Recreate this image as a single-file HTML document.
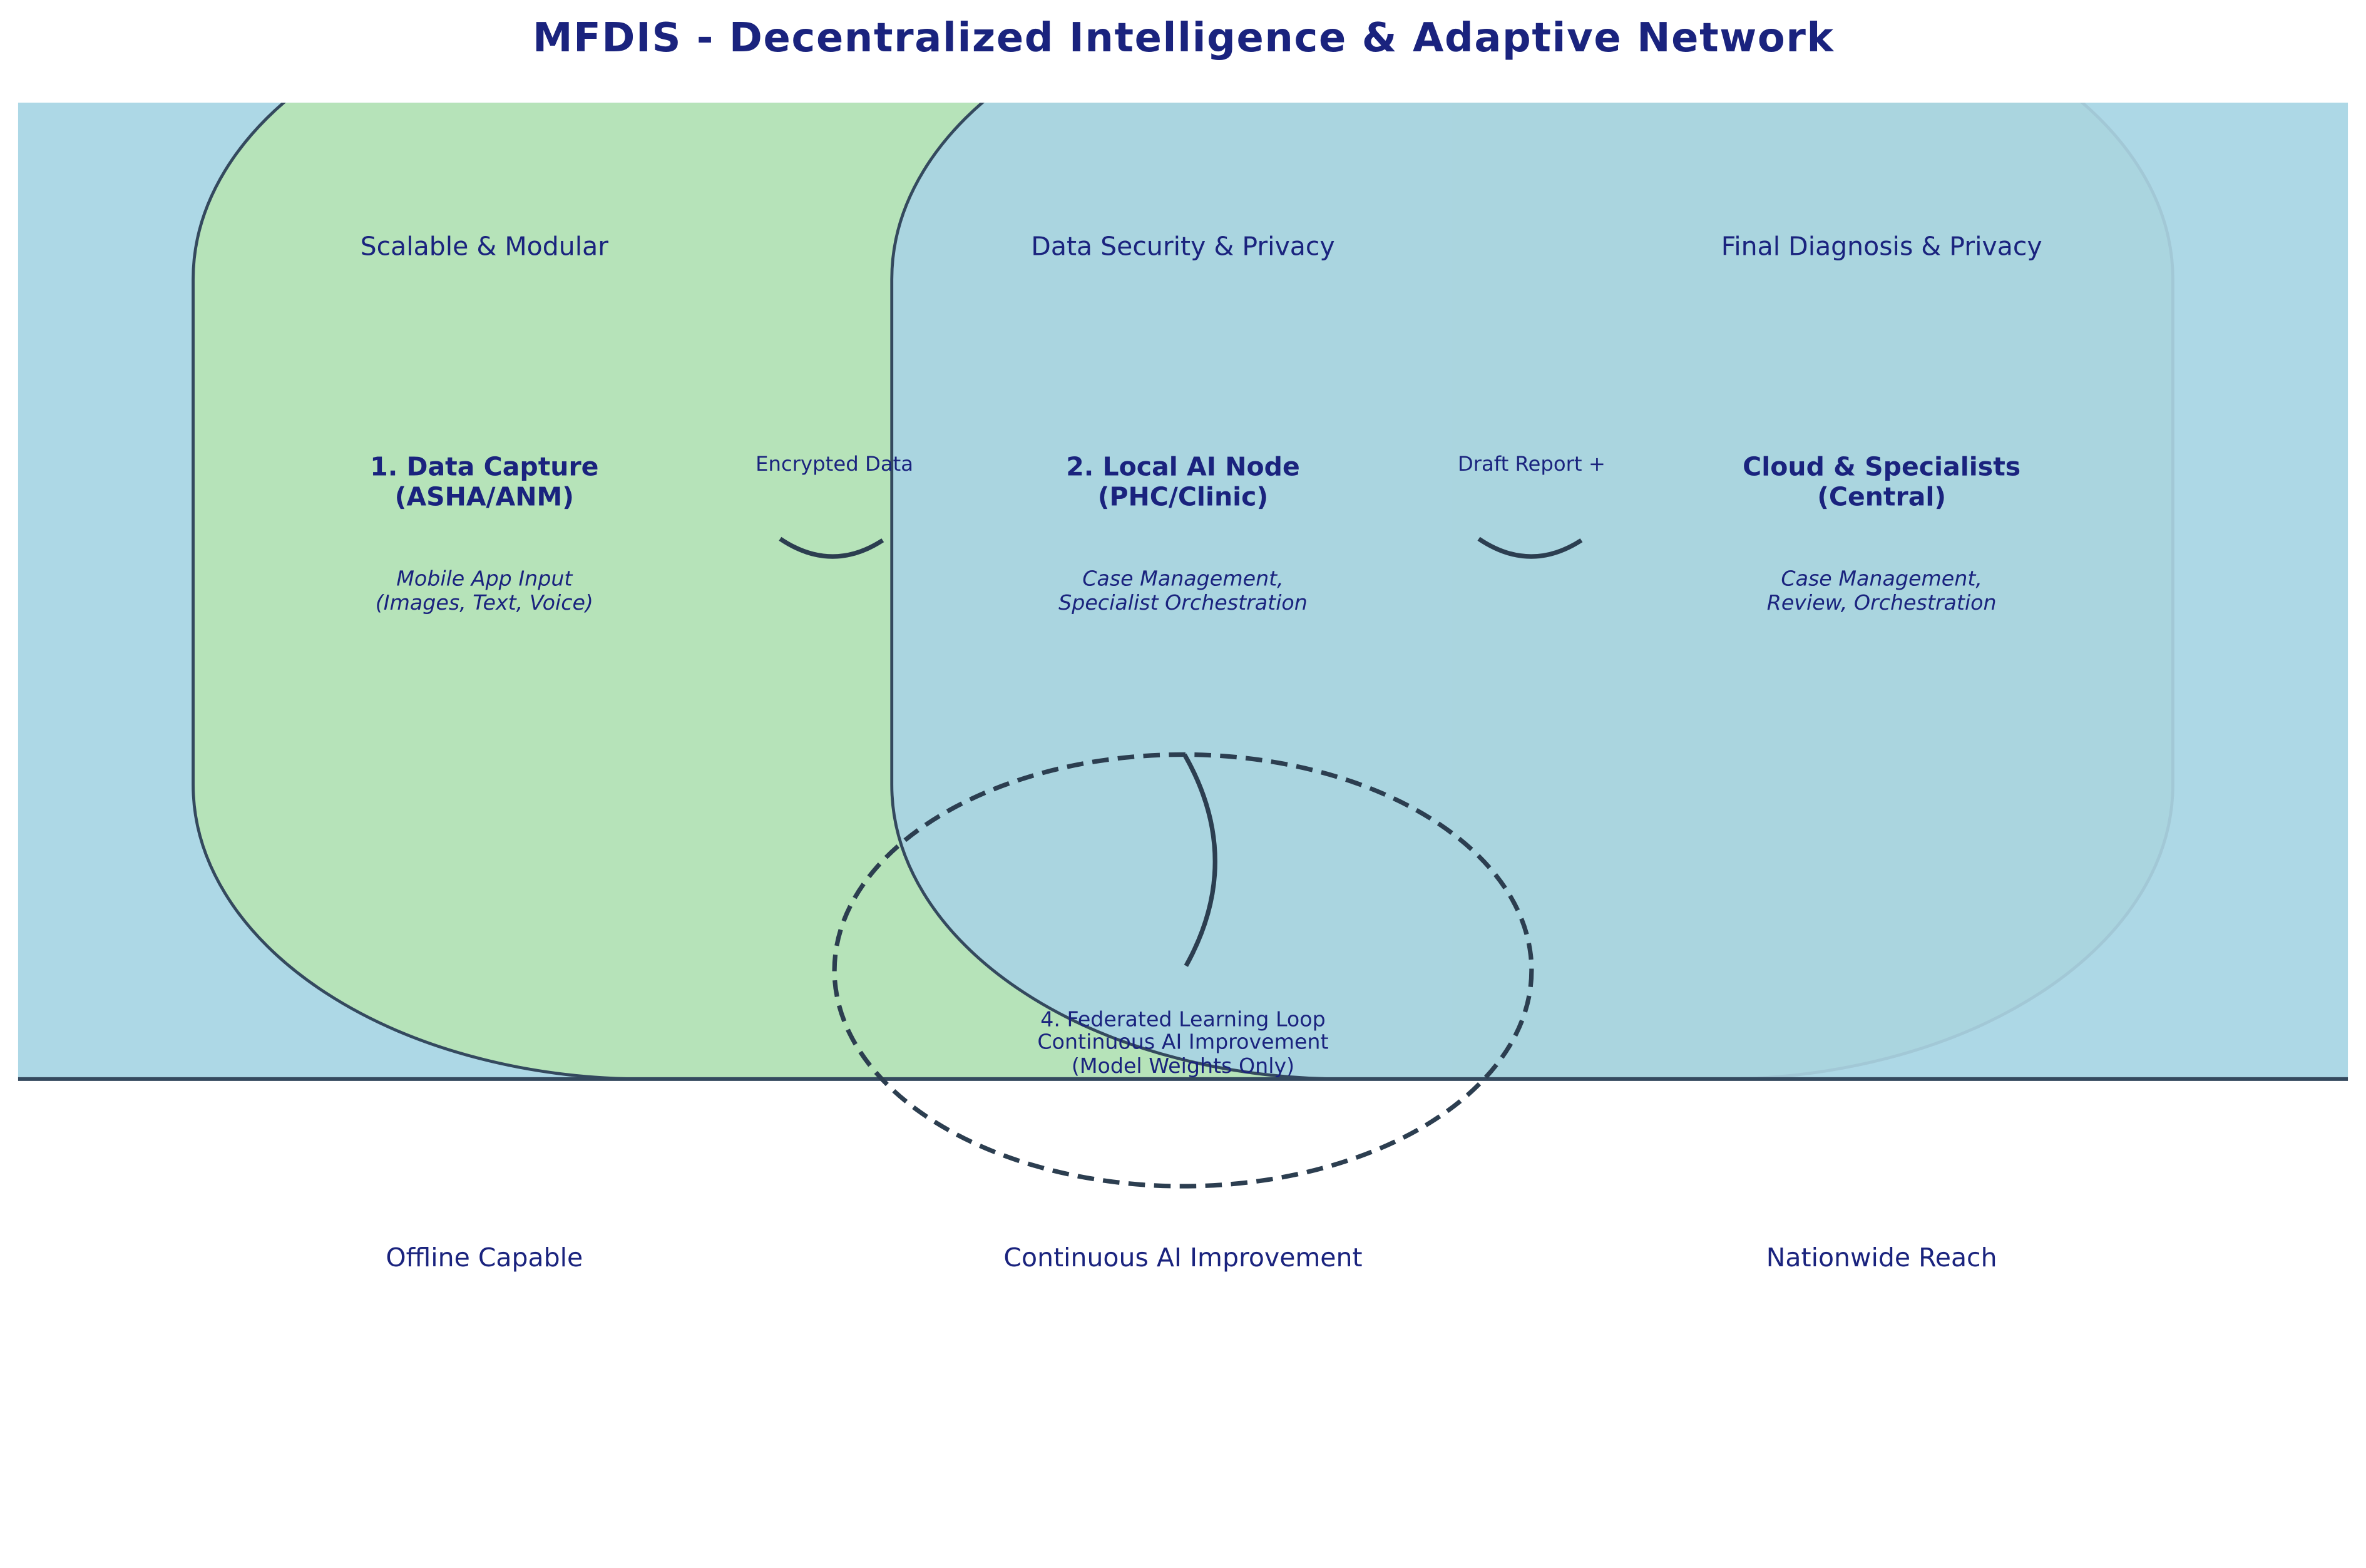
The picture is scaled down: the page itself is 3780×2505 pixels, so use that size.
<!DOCTYPE html>
<html><head><meta charset="utf-8"><style>
html,body{margin:0;padding:0;background:#fff;}
svg{display:block;}
text{font-family:"DejaVu Sans","Liberation Sans",sans-serif;fill:#1a237e;}
</style></head><body>
<svg width="3780" height="2505" viewBox="0 0 1568 1039" preserveAspectRatio="none" xmlns="http://www.w3.org/2000/svg">
<defs><clipPath id="c"><rect x="0" y="68" width="1568" height="647"/></clipPath></defs>
<rect x="12" y="68" width="1544" height="647" fill="#add8e6"/>
<g clip-path="url(#c)">
<path d="M128,185 A300,195 0 0 1 428,-10 L962,-10 L962,715 L428,715 A300,195 0 0 1 128,520 Z" fill="#b6e3b9" stroke="#34495e" stroke-width="2"/>
<path d="M960,-10 L1140,-10 A300,195 0 0 1 1440,185 L1440,520 A300,195 0 0 1 1140,715 L960,715 Z" fill="#aad5df" stroke="#a2c8d6" stroke-width="2"/>
<path d="M591,185 A300,195 0 0 1 891,-10 L962,-10 L962,715 L891,715 A300,195 0 0 1 591,520 Z" fill="#aad5e0" stroke="none"/>
<path d="M891,-10 A300,195 0 0 0 591,185 L591,520 A300,195 0 0 0 891,715" fill="none" stroke="#34495e" stroke-width="2"/>
</g>
<line x1="12" y1="715" x2="1556" y2="715" stroke="#34495e" stroke-width="2.5"/>
<text x="784" y="34" text-anchor="middle" font-size="26.5" font-weight="bold" textLength="862">MFDIS - Decentralized Intelligence &amp; Adaptive Network</text>
<g font-size="17" text-anchor="middle">
<text x="321" y="169">Scalable &amp; Modular</text>
<text x="784" y="169">Data Security &amp; Privacy</text>
<text x="1247" y="169">Final Diagnosis &amp; Privacy</text>
</g>
<g font-size="17" font-weight="bold" text-anchor="middle">
<text x="321" y="315">1. Data Capture</text>
<text x="321" y="335">(ASHA/ANM)</text>
<text x="784" y="315">2. Local AI Node</text>
<text x="784" y="335">(PHC/Clinic)</text>
<text x="1247" y="315">Cloud &amp; Specialists</text>
<text x="1247" y="335">(Central)</text>
</g>
<g font-size="13.8" font-style="italic" text-anchor="middle">
<text x="321" y="388">Mobile App Input</text>
<text x="321" y="404">(Images, Text, Voice)</text>
<text x="784" y="388">Case Management,</text>
<text x="784" y="404">Specialist Orchestration</text>
<text x="1247" y="388">Case Management,</text>
<text x="1247" y="404">Review, Orchestration</text>
</g>
<text x="553" y="312" text-anchor="middle" font-size="13.4">Encrypted Data</text>
<text x="1015" y="312" text-anchor="middle" font-size="13.4">Draft Report +</text>
<path d="M517,357 Q551,380 585,358" fill="none" stroke="#2c3e50" stroke-width="3"/>
<path d="M980,357 Q1014,380 1048,358" fill="none" stroke="#2c3e50" stroke-width="3"/>
<ellipse cx="784" cy="643" rx="231" ry="143" fill="none" stroke="#2c3e50" stroke-width="3" stroke-dasharray="11,6"/>
<path d="M785,500 Q825,570 786,640" fill="none" stroke="#2c3e50" stroke-width="3"/>
<g font-size="13.8" text-anchor="middle">
<text x="784" y="680">4. Federated Learning Loop</text>
<text x="784" y="695">Continuous AI Improvement</text>
<text x="784" y="711">(Model Weights Only)</text>
</g>
<g font-size="17" text-anchor="middle">
<text x="321" y="839">Offline Capable</text>
<text x="784" y="839">Continuous AI Improvement</text>
<text x="1247" y="839">Nationwide Reach</text>
</g>
</svg>
</body></html>
